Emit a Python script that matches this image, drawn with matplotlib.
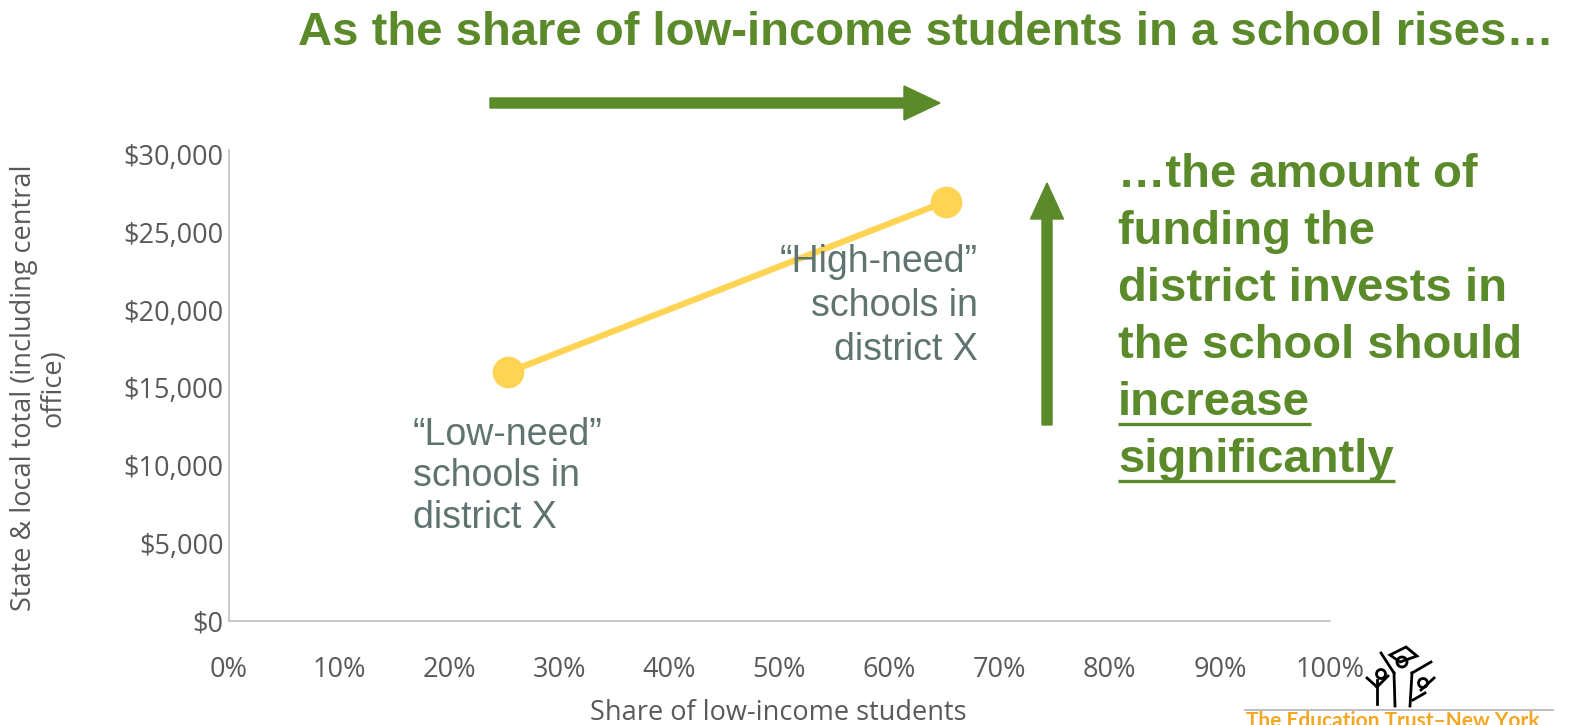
import matplotlib
matplotlib.use("Agg")
import matplotlib.pyplot as plt
from matplotlib.patches import FancyArrow, Ellipse, Polygon
from matplotlib.lines import Line2D

# Data
share_low_income = [0.253, 0.651]
funding = [16000, 27000]
x_ticks = [0, .1, .2, .3, .4, .5, .6, .7, .8, .9, 1.0]
x_tick_labels = ["0%", "10%", "20%", "30%", "40%", "50%", "60%", "70%", "80%", "90%", "100%"]
y_ticks = [0, 5000, 10000, 15000, 20000, 25000, 30000]
y_tick_labels = ["$0", "$5,000", "$10,000", "$15,000", "$20,000", "$25,000", "$30,000"]

GREEN = "#5b8a2a"
YELLOW = "#ffd454"
SLATE = "#5f7470"
TICK = "#595959"

W, H = 1573, 725
fig = plt.figure(figsize=(W / 100, H / 100), dpi=100)


def fx(px):
    return px / W


def fy(py):
    return 1 - py / H


ax = fig.add_axes([fx(229), fy(621), fx(1330) - fx(229), fy(155) - fy(621)])
ax.plot(share_low_income, funding, color=YELLOW, lw=4.5, solid_capstyle="round", zorder=3)
ax.scatter(share_low_income, funding, s=520, color=YELLOW, zorder=4, linewidths=0)
ax.set_xlim(0, 1.0)
ax.set_ylim(0, 30000)
ax.set_xticks(x_ticks)
ax.set_xticklabels(x_tick_labels)
ax.set_yticks(y_ticks)
ax.set_yticklabels(y_tick_labels)
for lab in ax.get_xticklabels() + ax.get_yticklabels():
    lab.set_fontfamily("Open Sans")
    lab.set_fontsize(19.5)
    lab.set_color(TICK)
ax.tick_params(axis="y", length=0, pad=4)
ax.tick_params(axis="x", length=0, pad=25)
for s in ["top", "right"]:
    ax.spines[s].set_visible(False)
for s in ["left", "bottom"]:
    ax.spines[s].set_color("#bfbfbf")
    ax.spines[s].set_linewidth(1.2)
ax.spines["left"].set_bounds(0, 30300)

fig.text(fx(778), fy(713), "Share of low-income students", ha="center", va="center",
         fontfamily="Open Sans", fontsize=19.5, color=TICK)
fig.text(fx(39), fy(388), "State & local total (including central\noffice)", ha="center",
         va="center", rotation=90, fontfamily="Open Sans", fontsize=19.5, color=TICK,
         linespacing=1.05)

# Point annotations
low_lines = ["\u201cLow-need\u201d", "schools in", "district X"]
for t, y in zip(low_lines, [435, 476, 518]):
    fig.text(fx(413), fy(y), t, ha="left", va="center", fontfamily="Liberation Sans",
             fontsize=27, color=SLATE)
high_lines = ["\u201cHigh-need\u201d", "schools in", "district X"]
for t, y in zip(high_lines, [262, 306, 350]):
    fig.text(fx(978), fy(y), t, ha="right", va="center", fontfamily="Liberation Sans",
             fontsize=27, color=SLATE)

fig.text(fx(298), fy(33), "As the share of low-income students in a school rises\u2026", ha="left",
         va="center", fontfamily="Liberation Sans", fontweight="bold", fontsize=34, color=GREEN)

# Direction arrows
fig.patches.append(FancyArrow(fx(490), fy(103), fx(940) - fx(490), 0, width=10 / H,
                              head_width=34 / H, head_length=fx(36), length_includes_head=True,
                              color=GREEN, transform=fig.transFigure, figure=fig))
fig.patches.append(FancyArrow(fx(1047), fy(425), 0, fy(183) - fy(425), width=fx(10),
                              head_width=fx(33), head_length=36 / H, length_includes_head=True,
                              color=GREEN, transform=fig.transFigure, figure=fig))

plain = ["\u2026the amount of", "funding the", "district invests in", "the school should"]
baselines = [187, 244, 301, 358]
for t, y in zip(plain, baselines):
    fig.text(fx(1118), fy(y), t, ha="left", va="baseline", fontfamily="Liberation Sans",
             fontweight="bold", fontsize=34, color=GREEN)
underlined = [("increase", 415), ("significantly", 472)]
ul_texts = []
for t, y in underlined:
    ul_texts.append((fig.text(fx(1118), fy(y), t, ha="left", va="baseline",
                              fontfamily="Liberation Sans", fontweight="bold", fontsize=34,
                              color=GREEN), y))
fig.canvas.draw()
renderer = fig.canvas.get_renderer()
for txt, y in ul_texts:
    bb = txt.get_window_extent(renderer)
    fig.add_artist(Line2D([fx(1118), fx(bb.x1 + 1)], [fy(y + 9), fy(y + 9)], color=GREEN,
                          lw=2.4, solid_capstyle="butt", transform=fig.transFigure))

# Footer: rule, stick-figure logo, and organisation name
fig.add_artist(Line2D([fx(1245), fx(1553)], [fy(710), fy(710)], color="#b0b4b4", lw=1.2,
                      transform=fig.transFigure))
logo = [
    [(1377, 704), (1377, 680)], [(1377, 687), (1367, 678)], [(1377, 687), (1388, 676)],
    [(1395, 706), (1394, 673)], [(1410, 706), (1412, 673)], [(1394, 673), (1381, 653)],
    [(1412, 673), (1431, 662)], [(1413, 700), (1425, 693)], [(1421, 690), (1434, 678)],
]
for (x0, y0), (x1, y1) in logo:
    fig.add_artist(Line2D([fx(x0), fx(x1)], [fy(y0), fy(y1)], color="black", lw=2,
                          transform=fig.transFigure))
for cx, cy, d in [(1381, 674, 9), (1402, 662, 10), (1423, 683, 9)]:
    fig.add_artist(Ellipse((fx(cx), fy(cy)), fx(d), d / H, fill=False, ec="black", lw=2,
                           transform=fig.transFigure))
fig.add_artist(Polygon([(fx(1390), fy(655)), (fx(1406), fy(647)), (fx(1417), fy(656)),
                        (fx(1400), fy(662))], closed=True, fill=False, ec="black", lw=2,
                       transform=fig.transFigure))
fig.text(fx(1393), fy(731), "The Education Trust\u2013New York", ha="center", va="bottom",
         fontfamily="Lato", fontweight="bold", fontsize=15, color="#f5a623")

fig.savefig("out.png", dpi=100)
